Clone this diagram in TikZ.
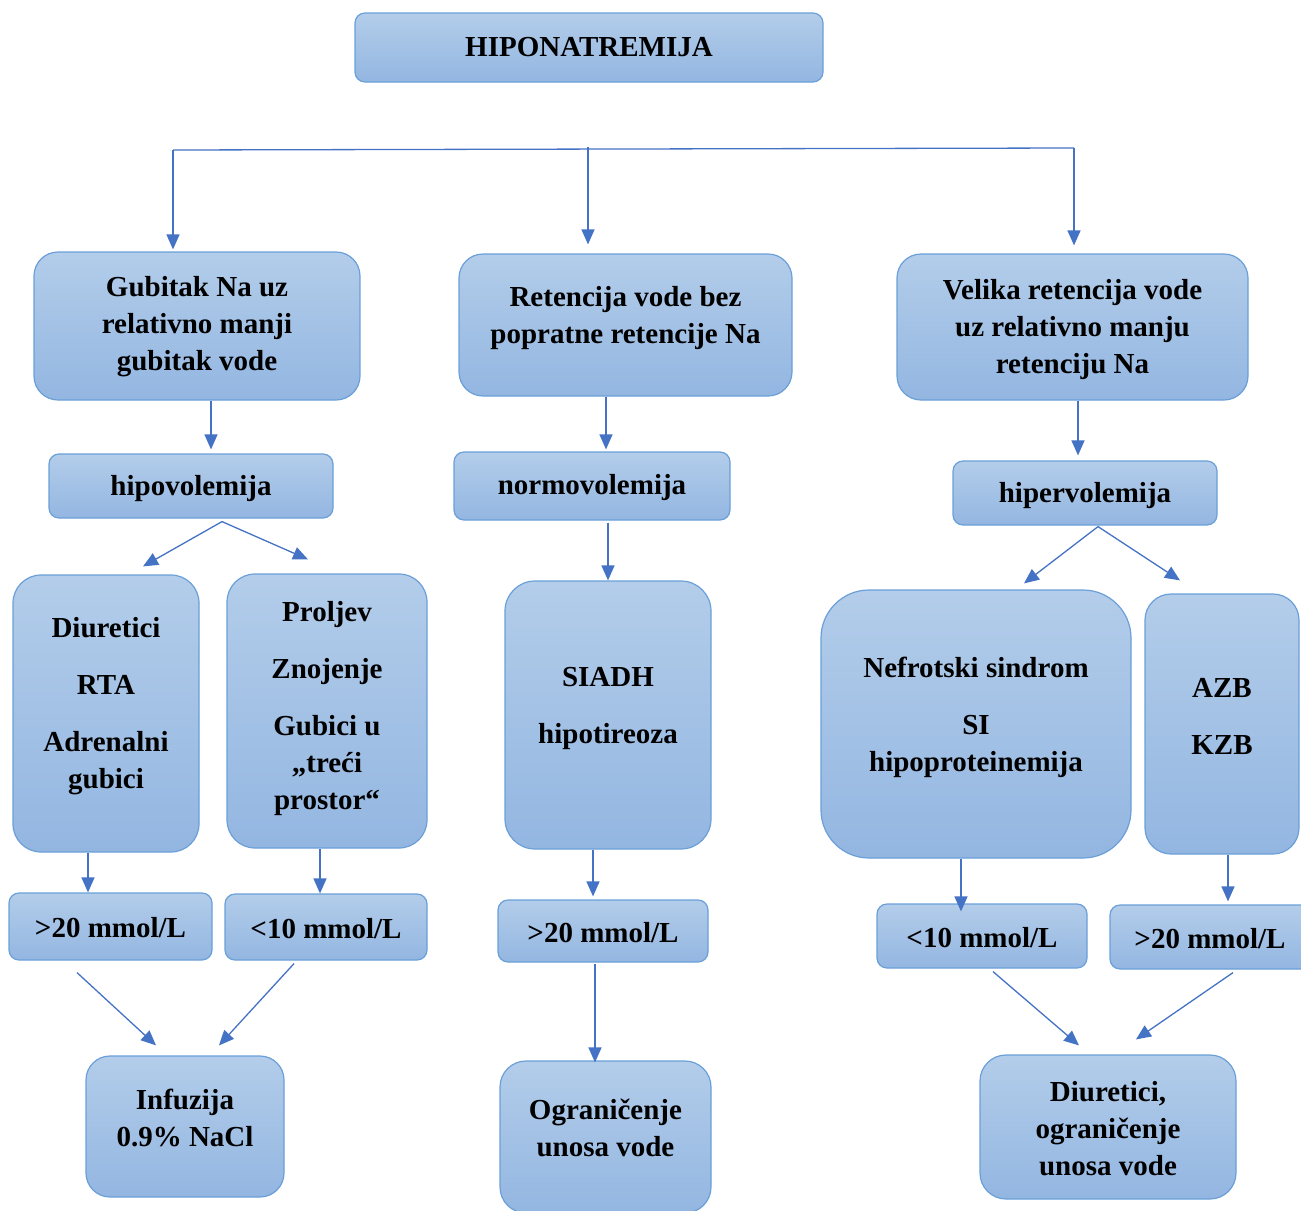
\documentclass[tikz,border=0pt]{standalone}
\usepackage{fontspec}
\setmainfont{Liberation Serif}
\usetikzlibrary{arrows.meta,calc}
\definecolor{bord}{HTML}{6A9FD8}
\definecolor{ftop}{HTML}{B3CDEA}
\definecolor{fbot}{HTML}{93B6E1}
\definecolor{arrc}{HTML}{4472C4}
\begin{document}
\begin{tikzpicture}[x=1pt,y=-1pt,
  box/.style={draw=bord, line width=1.2pt, top color=ftop, bottom color=fbot, rounded corners=#1, inner sep=0pt},
  box/.default=10pt,
  sz/.style 2 args={minimum width=#1pt, minimum height=#2pt},
  txt/.style={font=\fontsize{29}{37}\selectfont\bfseries, align=center, inner sep=0pt},
  conn/.style={draw=arrc, line width=1.3pt, -{Triangle[length=15pt,width=13pt]}},
  plain/.style={draw=arrc, line width=1.3pt}
]
\useasboundingbox (0,0) rectangle (1301,1210);

% title
\node[box, sz={468}{69}] (T) at (589,47.5) {};
\node[txt] (Tt) at (589,47) {HIPONATREMIJA};

% row 1
\node[box=24pt, sz={326}{148}] (A1) at (197,326) {};
\node[txt] (A1t) at (197,327) {Gubitak Na uz\\relativno manji\\gubitak vode};
\node[box=24pt, sz={333}{142}] (B1) at (625.5,325) {};
\node[txt] (B1t) at (625.5,318) {Retencija vode bez\\popratne retencije Na};
\node[box=24pt, sz={351}{146}] (C1) at (1072.5,327) {};
\node[txt] (C1t) at (1072.5,330) {Velika retencija vode\\uz relativno manju\\retenciju Na};

% row 2
\node[box, sz={284}{64}] (hipo) at (191,486) {};
\node[txt] (hipot) at (191,489) {hipovolemija};
\node[box, sz={276}{68}] (normo) at (592,486) {};
\node[txt] (normot) at (592,488) {normovolemija};
\node[box, sz={264}{64}] (hiper) at (1085,493) {};
\node[txt] (hipert) at (1085,496) {hipervolemija};

% row 3
\node[box=28pt, sz={186}{277}] (D) at (106,713.5) {};
\node[txt] (Dt) at (106,706) {Diuretici\\[20pt]RTA\\[20pt]Adrenalni\\gubici};
\node[box=28pt, sz={200}{274}] (E) at (327,711) {};
\node[txt] (Et) at (327,709) {Proljev\\[20pt]Znojenje\\[20pt]Gubici u\\„treći\\prostor“};
\node[box=30pt, sz={206}{268}] (F) at (608,715) {};
\node[txt] (Ft) at (608,708) {SIADH\\[20pt]hipotireoza};
\node[box=48pt, sz={310}{268}] (G) at (976,724) {};
\node[txt] (Gt) at (976,717) {Nefrotski sindrom\\[20pt]SI\\hipoproteinemija};
\node[box=26pt, sz={154}{260}] (H) at (1222,724) {};
\node[txt] (Ht) at (1222,716) {AZB\\[20pt]KZB};

% row 4
\node[box, sz={203}{67}] (r1) at (110.5,926.5) {};
\node[txt] (r1t) at (110.5,928) {>20 mmol/L};
\node[box, sz={202}{66}] (r2) at (326,927) {};
\node[txt] (r2t) at (326,929) {<10 mmol/L};
\node[box, sz={210}{62}] (r3) at (603,931) {};
\node[txt] (r3t) at (603,933) {>20 mmol/L};
\node[box, sz={210}{64}] (r4) at (982,936) {};
\node[txt] (r4t) at (982,938) {<10 mmol/L};
\node[box, sz={210}{64}] (r5) at (1215,937) {};
\node[txt] (r5t) at (1210,939) {>20 mmol/L};

% row 5
\node[box=24pt, sz={198}{141}] (Inf) at (185,1126.5) {};
\node[txt] (Inft) at (185,1118) {Infuzija\\0.9\% NaCl};
\node[box=26pt, sz={211}{152}] (Ogr) at (605.5,1137) {};
\node[txt] (Ogrt) at (605.5,1128) {Ograničenje\\unosa vode};
\node[box=26pt, sz={256}{144}] (Diu) at (1108,1127) {};
\node[txt] (Diut) at (1108,1129) {Diuretici,\\ograničenje\\unosa vode};

% connectors
\coordinate (jL) at (173,150);
\coordinate (jM) at (588,147);
\coordinate (jR) at (1074,148);
\draw[plain] (jL) -- (jR);
\draw[conn, shorten >=2pt] (jL) -- (jL |- A1.north);
\draw[conn, shorten >=9pt] (jM) -- (jM |- B1.north);
\draw[conn, shorten >=8pt] (jR) -- (jR |- C1.north);

\draw[conn, shorten >=4pt] ([xshift=14pt]A1.south) -- ([xshift=20pt]hipo.north);
\draw[conn, shorten >=2pt] ([xshift=-19.5pt]B1.south) -- ([xshift=14pt]normo.north);
\draw[conn, shorten >=5pt] ([xshift=5.5pt]C1.south) -- ([xshift=-7pt]hiper.north);

\draw[conn] ([xshift=31pt,yshift=-3pt]hipo.south) -- ([xshift=37pt,yshift=8pt]D.north);
\draw[conn] ([xshift=31pt,yshift=-3pt]hipo.south) -- ([xshift=-19pt,yshift=14pt]E.north);
\draw[conn] ([xshift=16pt,yshift=-2pt]normo.south) -- (F.north);
\draw[conn] ([xshift=13pt,yshift=-1pt]hiper.south) -- ([xshift=48pt,yshift=6pt]G.north);
\draw[conn] ([xshift=13pt,yshift=-1pt]hiper.south) -- ([xshift=-42pt,yshift=13pt]H.north);

\draw[conn] ([xshift=-18pt]D.south) -- ([xshift=-22.5pt]r1.north);
\draw[conn] ([xshift=-7pt]E.south) -- ([xshift=-6pt]r2.north);
\draw[conn, shorten >=3pt] ([xshift=-15pt]F.south) -- ([xshift=-10pt]r3.north);
\draw[conn, shorten >=-8pt] ([xshift=-15pt]G.south) -- ([xshift=-21pt]r4.north);
\draw[conn, shorten >=3pt] ([xshift=6pt]H.south) -- ([xshift=13pt]r5.north);

\draw[conn] ([xshift=-33.5pt,yshift=-12pt]r1.south) -- ([xshift=-29pt,yshift=10pt]Inf.north);
\draw[conn] ([xshift=-32pt,yshift=-3pt]r2.south) -- ([xshift=34pt,yshift=10pt]Inf.north);
\draw[conn, shorten >=-2pt] ([xshift=-8pt,yshift=-1pt]r3.south) -- ([xshift=-10.5pt]Ogr.north);
\draw[conn] ([xshift=11pt,yshift=-3pt]r4.south) -- ([xshift=-29pt,yshift=9pt]Diu.north);
\draw[conn] ([xshift=18pt,yshift=-3pt]r5.south) -- ([xshift=28pt,yshift=15pt]Diu.north);
\end{tikzpicture}
\end{document}
